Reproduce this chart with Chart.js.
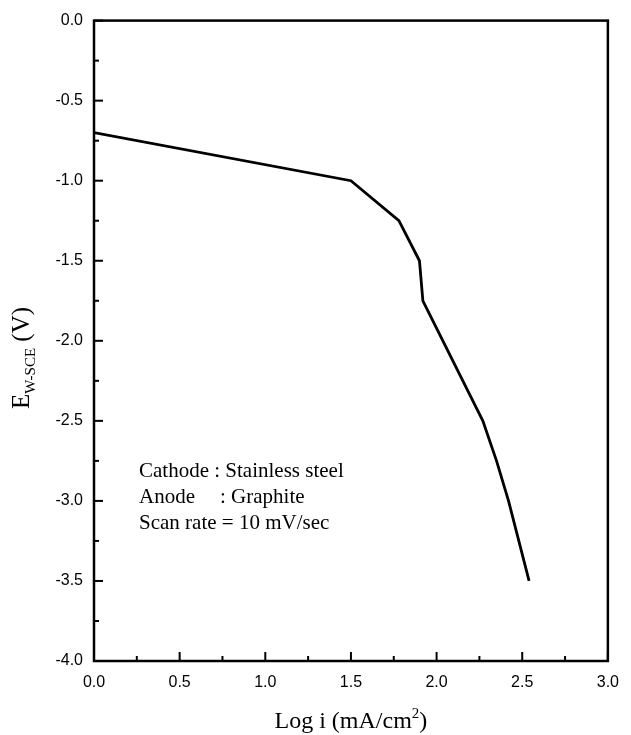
<!DOCTYPE html>
<html>
<head>
<meta charset="utf-8">
<script src="https://cdn.jsdelivr.net/npm/chart.js@4"></script>
<style>
  body { margin: 0; background: #fff; }
  canvas { display: block; }
</style>
</head>
<body>
<canvas id="polChart" width="631" height="735"></canvas>
<script>
// polarization curve
let logI = [0, 1.5, 1.78, 1.9, 1.92, 2.27, 2.35, 2.42, 2.48, 2.54];
let potential = [-0.7, -1.0, -1.25, -1.5, -1.75, -2.5, -2.75, -3.0, -3.25, -3.5];

let xRange = [0, 3];
let yRange = [-4, 0];
let notes = ['Cathode : Stainless steel', 'Anode', ': Graphite', 'Scan rate = 10 mV/sec'];

let points = [];
for (let i = 0; i <= logI.length - 1; i++) {
  points.push({x: logI[i], y: potential[i]});
}

function isMajor(v) {
  return Math.abs(v * 2 - Math.round(v * 2)) < 1e-6;
}

let serif = '"Liberation Serif", "Times New Roman", serif';
let sans = '"Liberation Sans", Arial, sans-serif';

let framePlugin = {
  id: 'frame',
  afterDraw(chart) {
    let ctx = chart.ctx;
    let area = chart.chartArea;
    let xs = chart.scales.x;
    let ys = chart.scales.y;
    ctx.save();
    ctx.strokeStyle = '#000';
    ctx.lineWidth = 2.5;
    ctx.strokeRect(area.left, area.top, area.right - area.left, area.bottom - area.top);

    // inward ticks, major every 0.5, minor every 0.25
    ctx.lineWidth = 2;
    xs.ticks.forEach(function(t) {
      let px = xs.getPixelForValue(t.value);
      let len = isMajor(t.value) ? 9 : 5;
      ctx.beginPath();
      ctx.moveTo(px, area.bottom);
      ctx.lineTo(px, area.bottom - len);
      ctx.stroke();
    });
    ys.ticks.forEach(function(t) {
      let py = ys.getPixelForValue(t.value);
      let len = isMajor(t.value) ? 9 : 5;
      ctx.beginPath();
      ctx.moveTo(area.left, py);
      ctx.lineTo(area.left + len, py);
      ctx.stroke();
    });

    ctx.fillStyle = '#000';
    ctx.textBaseline = 'alphabetic';
    ctx.textAlign = 'left';

    // x title with superscript
    let big = '24px ' + serif;
    let small = '15px ' + serif;
    ctx.font = big;
    let a = 'Log i (mA/cm';
    let c = ')';
    let wa = ctx.measureText(a).width;
    let wc = ctx.measureText(c).width;
    ctx.font = small;
    let wb = ctx.measureText('2').width;
    let startX = (area.left + area.right) / 2 - (wa + wb + wc) / 2;
    let baseY = 728;
    ctx.font = big;
    ctx.fillText(a, startX, baseY);
    ctx.font = small;
    ctx.fillText('2', startX + wa, baseY - 10);
    ctx.font = big;
    ctx.fillText(c, startX + wa + wb, baseY);

    // y title with subscript, rotated
    let bigY = '25px ' + serif;
    let smallY = '15px ' + serif;
    ctx.save();
    ctx.translate(21, 358);
    ctx.rotate(-Math.PI / 2);
    ctx.font = bigY;
    let e = 'E';
    let v = ' (V)';
    let we = ctx.measureText(e).width;
    let wv = ctx.measureText(v).width;
    ctx.font = smallY;
    let sub = 'W-SCE';
    let ws = ctx.measureText(sub).width;
    let sx = -(we + ws + wv) / 2;
    ctx.font = bigY;
    ctx.fillText(e, sx, 8);
    ctx.font = smallY;
    ctx.fillText(sub, sx + we, 14);
    ctx.font = bigY;
    ctx.fillText(v, sx + we + ws, 8);
    ctx.restore();

    // legend note
    ctx.font = '21px ' + serif;
    ctx.textBaseline = 'middle';
    ctx.fillText(notes[0], 139, 471);
    ctx.fillText(notes[1], 139, 497);
    ctx.fillText(notes[2], 220, 497);
    ctx.fillText(notes[3], 139, 523);
    ctx.restore();
  }
};

let ctx = document.getElementById('polChart').getContext('2d');
let myChart = new Chart(ctx, {
  type: 'scatter',
  data: {
    datasets: [{
      data: points,
      showLine: true,
      borderColor: '#000',
      borderWidth: 2.8,
      pointRadius: 0,
      tension: 0,
      fill: false,
    }],
  },
  options: {
    responsive: false,
    animation: false,
    layout: {
      padding: {top: 15, right: 21, left: 0, bottom: 0},
    },
    plugins: {
      legend: {display: false},
      tooltip: {enabled: false},
    },
    scales: {
      x: {
        type: 'linear',
        min: xRange[0],
        max: xRange[1],
        grid: {display: false, drawTicks: false},
        border: {display: false},
        afterFit: function(scale) { scale.height = 74; },
        ticks: {
          stepSize: 0.25,
          autoSkip: false,
          maxRotation: 0,
          padding: 12,
          color: '#000',
          font: {family: sans, size: 16},
          callback: function(val) {
            return isMajor(val) ? val.toFixed(1) : '';
          },
        },
      },
      y: {
        type: 'linear',
        min: yRange[0],
        max: yRange[1],
        grid: {display: false, drawTicks: false},
        border: {display: false},
        afterFit: function(scale) { scale.width = 94; },
        ticks: {
          stepSize: 0.25,
          autoSkip: false,
          padding: 11,
          color: '#000',
          font: {family: sans, size: 16},
          callback: function(val) {
            return isMajor(val) ? val.toFixed(1) : '';
          },
        },
      },
    },
  },
  plugins: [framePlugin],
});
</script>
</body>
</html>
